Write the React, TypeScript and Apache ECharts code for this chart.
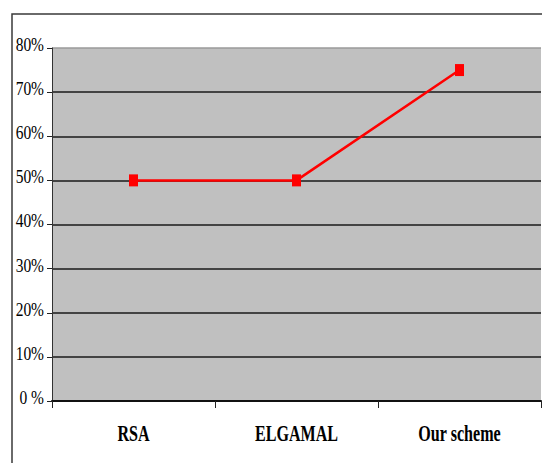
import React, { useEffect, useRef } from "react";
import * as echarts from "echarts";

// Schemes compared and their success rates (%)
const schemes = ["RSA", "ELGAMAL", "Our scheme"];
const rates = [50, 50, 75];
const yTicks = [0, 10, 20, 30, 40, 50, 60, 70, 80];
const yTickLabels = ["0 %", "10%", "20%", "30%", "40%", "50%", "60%", "70%", "80%"];

export default function App() {
  const ref = useRef<HTMLDivElement>(null);

  useEffect(() => {
    if (!ref.current) return;
    const chart = echarts.init(ref.current, null, { renderer: "svg" });
    const splitColors = yTicks.map((t) => (t === 80 ? "#9a9a9a" : "#1a1a1a"));
    chart.setOption({
      animation: false,
      backgroundColor: "#ffffff",
      grid: {
        left: 52,
        top: 48,
        right: 1,
        bottom: 62,
        show: true,
        backgroundColor: "#c0c0c0",
        borderWidth: 0,
      },
      xAxis: {
        type: "category",
        data: schemes,
        boundaryGap: true,
        axisLine: { show: true, lineStyle: { color: "#111", width: 2 } },
        axisTick: { show: true, alignWithLabel: false, length: 7, lineStyle: { color: "#222", width: 1 } },
        axisLabel: { show: false },
        splitLine: { show: false },
      },
      yAxis: {
        type: "value",
        min: 0,
        max: 80,
        interval: 10,
        axisLine: { show: true, lineStyle: { color: "#333", width: 1 } },
        axisTick: { show: true, length: 5, lineStyle: { color: "#222" } },
        axisLabel: { show: false },
        splitLine: { show: true, lineStyle: { color: splitColors, width: 1.5 } },
      },
      series: [
        {
          type: "line",
          data: rates,
          symbol: "rect",
          symbolSize: [9, 12],
          itemStyle: { color: "#ff0000" },
          lineStyle: { color: "#ff0000", width: 2.5 },
        },
      ],
    });

    // Axis labels are set in a tall, narrow serif face, so they are drawn as
    // scaled text placed at the axes' own pixel positions.
    const zeroY = chart.convertToPixel({ yAxisIndex: 0 }, 0) as number;
    const axisX = chart.convertToPixel({ xAxisIndex: 0 }, schemes[0]) as number;
    const gridLeft = 52;
    const graphics: any[] = [
      {
        type: "rect",
        shape: { x: 12, y: 14, width: 600, height: 600 },
        style: { fill: "none", stroke: "#3a3a3a", lineWidth: 1.5 },
        silent: true,
        z: 0,
      },
    ];
    schemes.forEach((name) => {
      const cx = chart.convertToPixel({ xAxisIndex: 0 }, name) as number;
      graphics.push({
        type: "text",
        x: cx,
        y: zeroY + 32,
        scaleX: 0.7,
        style: {
          text: name,
          font: "bold 23px 'Liberation Serif'",
          fill: "#000",
          textAlign: "center",
          textVerticalAlign: "middle",
        },
        silent: true,
      });
    });
    yTicks.forEach((t, i) => {
      const py = chart.convertToPixel({ yAxisIndex: 0 }, t) as number;
      graphics.push({
        type: "text",
        x: gridLeft - 8,
        y: py - 3,
        scaleX: 0.86,
        style: {
          text: yTickLabels[i],
          font: "18px 'Liberation Serif'",
          fill: "#000",
          textAlign: "right",
          textVerticalAlign: "middle",
        },
        silent: true,
      });
    });
    void axisX;
    chart.setOption({ graphic: graphics });

    return () => chart.dispose();
  }, []);

  return (
    <div
      ref={ref}
      style={{ position: "absolute", left: 0, top: 0, width: 542, height: 463 }}
    />
  );
}
